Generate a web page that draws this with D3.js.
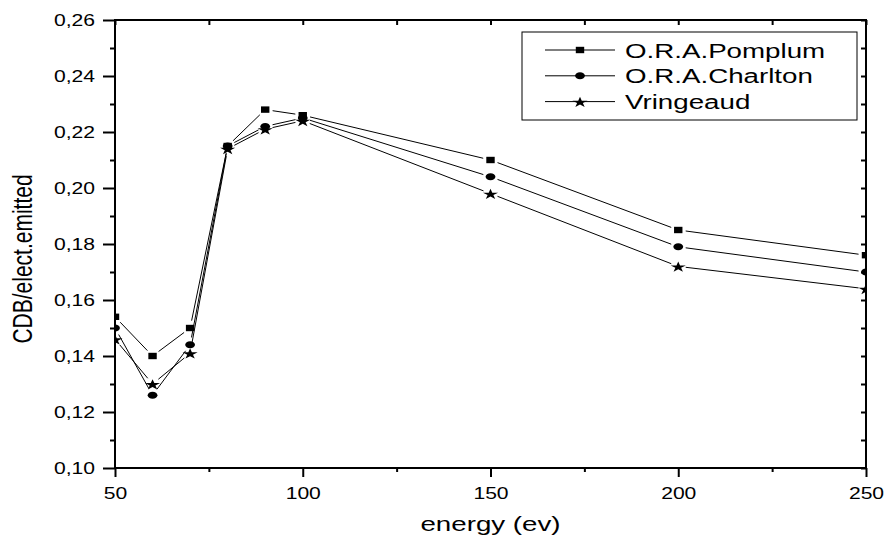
<!DOCTYPE html>
<html>
<head>
<meta charset="utf-8">
<script src="https://cdn.jsdelivr.net/npm/d3@7/dist/d3.min.js"></script>
<style>
  html, body { margin: 0; padding: 0; background: #fff; }
  svg { display: block; font-family: "Liberation Sans", Arial, sans-serif; }
</style>
</head>
<body>
<svg id="chart" width="886" height="539"></svg>
<script>
// ---- data ----
const energy    = [50, 60, 70, 80, 90, 100, 150, 200, 250];
const pomplum   = [0.154, 0.140, 0.150, 0.215, 0.228, 0.226, 0.210, 0.185, 0.176];
const charlton  = [0.150, 0.126, 0.144, 0.215, 0.222, 0.225, 0.204, 0.179, 0.170];
const vringeaud = [0.146, 0.130, 0.141, 0.214, 0.221, 0.224, 0.198, 0.172, 0.164];
const seriesNames = ["O.R.A.Pomplum", "O.R.A.Charlton", "Vringeaud"];
const seriesShapes = ["square", "circle", "star"];
const xMajor = [50, 100, 150, 200, 250];
const xMinor = [75, 125, 175, 225];
const yMajor = [0.10, 0.12, 0.14, 0.16, 0.18, 0.20, 0.22, 0.24, 0.26];
const yMinor = [0.11, 0.13, 0.15, 0.17, 0.19, 0.21, 0.23, 0.25];
const xTitle = "energy (ev)";
const yTitle = "CDB/elect.emitted";

// ---- layout ----
const L = 115, R = 866, T = 20, B = 468;
const SX = 1.32; // horizontal text stretch
const MX = 1.4;  // horizontal marker stretch
const svg = d3.select("#chart");
const x = d3.scaleLinear().domain([50, 250]).range([L, R]);
const y = d3.scaleLinear().domain([0.10, 0.26]).range([B, T]);
const fmt = v => d3.format(".2f")(v).replace(".", ",");

const seriesVals = [pomplum, charlton, vringeaud];

// clip
svg.append("defs").append("clipPath").attr("id", "clip")
  .append("rect").attr("x", L).attr("y", T).attr("width", R - L).attr("height", B - T);

// ---- axes ----
function styleAxis(g) {
  g.select(".domain").remove();
  g.selectAll(".tick line").attr("stroke", "#000").attr("stroke-width", 2);
}
// left
const gL = svg.append("g").attr("transform", `translate(${L},0)`)
  .call(d3.axisLeft(y).tickValues(yMajor).tickSize(12).tickPadding(8).tickFormat(fmt));
styleAxis(gL);
gL.selectAll(".tick text").attr("x", -20 / SX).attr("transform", `scale(${SX},1)`)
  .attr("font-size", 16).attr("font-family", "Liberation Sans, Arial, sans-serif").attr("fill", "#000");
const gLm = svg.append("g").attr("transform", `translate(${L},0)`)
  .call(d3.axisLeft(y).tickValues(yMinor).tickSize(5).tickFormat(""));
styleAxis(gLm);
// bottom
const gB = svg.append("g").attr("transform", `translate(0,${B})`)
  .call(d3.axisBottom(x).tickValues(xMajor).tickSize(9).tickFormat(d3.format("d")));
styleAxis(gB);
gB.selectAll(".tick text").attr("y", 31).attr("dy", 0).attr("transform", `scale(${SX},1)`)
  .attr("font-size", 16).attr("font-family", "Liberation Sans, Arial, sans-serif").attr("fill", "#000");
const gBm = svg.append("g").attr("transform", `translate(0,${B})`)
  .call(d3.axisBottom(x).tickValues(xMinor).tickSize(4).tickFormat(""));
styleAxis(gBm);
// top (inward)
const gT = svg.append("g").attr("transform", `translate(0,${T})`)
  .call(d3.axisTop(x).tickValues(xMajor.concat(xMinor)).tickSize(-5).tickFormat(""));
styleAxis(gT);
// right (inward)
const gR = svg.append("g").attr("transform", `translate(${R},0)`)
  .call(d3.axisRight(y).tickValues(yMajor.concat(yMinor)).tickSize(-5).tickFormat(""));
styleAxis(gR);

// ---- markers ----
function drawMarker(g, shape, cx, cy) {
  const m = g.append("g").attr("transform", `translate(${cx},${cy}) scale(${MX},1)`);
  if (shape === "square") {
    m.append("rect").attr("x", -3).attr("y", -3.2).attr("width", 6).attr("height", 6.4).attr("fill", "#000");
  } else if (shape === "circle") {
    m.append("circle").attr("r", 3.5).attr("fill", "#000");
  } else {
    m.append("path").attr("d", d3.symbol(d3.symbolStar, 36)()).attr("transform", "translate(0,0.8)").attr("fill", "#000");
  }
}

// ---- series ----
const plot = svg.append("g").attr("clip-path", "url(#clip)");
const GAP = 7.5;
seriesVals.forEach((vals, si) => {
  const pts = energy.map((e, i) => [x(e), y(vals[i])]);
  for (let i = 0; i < pts.length - 1; i++) {
    const [x0, y0] = pts[i], [x1, y1] = pts[i + 1];
    const dx = x1 - x0, dy = y1 - y0, len = Math.hypot(dx, dy);
    const ux = dx / len, uy = dy / len;
    plot.append("line")
      .attr("x1", x0 + ux * GAP).attr("y1", y0 + uy * GAP)
      .attr("x2", x1 - ux * GAP).attr("y2", y1 - uy * GAP)
      .attr("stroke", "#000").attr("stroke-width", 1);
  }
  pts.forEach(p => drawMarker(plot, seriesShapes[si], p[0], p[1]));
});

// ---- frame ----
svg.append("rect").attr("x", L).attr("y", T).attr("width", R - L).attr("height", B - T)
  .attr("fill", "none").attr("stroke", "#000").attr("stroke-width", 2);

// ---- legend ----
const lg = svg.append("g");
lg.append("rect").attr("x", 522).attr("y", 32).attr("width", 335).attr("height", 88)
  .attr("fill", "#fff").attr("stroke", "#000").attr("stroke-width", 1);
seriesNames.forEach((name, i) => {
  const cy = 50 + i * 25.8;
  lg.append("line").attr("x1", 545).attr("x2", 615).attr("y1", cy).attr("y2", cy)
    .attr("stroke", "#000").attr("stroke-width", 1);
  drawMarker(lg, seriesShapes[i], 580, cy);
  lg.append("text").attr("transform", `translate(625,${cy + 7.5}) scale(${SX},1)`)
    .attr("font-size", 21).attr("fill", "#000").text(name);
});

// ---- titles ----
svg.append("text").attr("transform", `translate(${(L + R) / 2},531) scale(${SX},1)`)
  .attr("text-anchor", "middle").attr("font-size", 21).attr("fill", "#000").text(xTitle);
svg.append("text").attr("transform", `translate(32,259) scale(${SX},1) rotate(-90)`)
  .attr("text-anchor", "middle").attr("font-size", 21).attr("fill", "#000").text(yTitle);
</script>
</body>
</html>
